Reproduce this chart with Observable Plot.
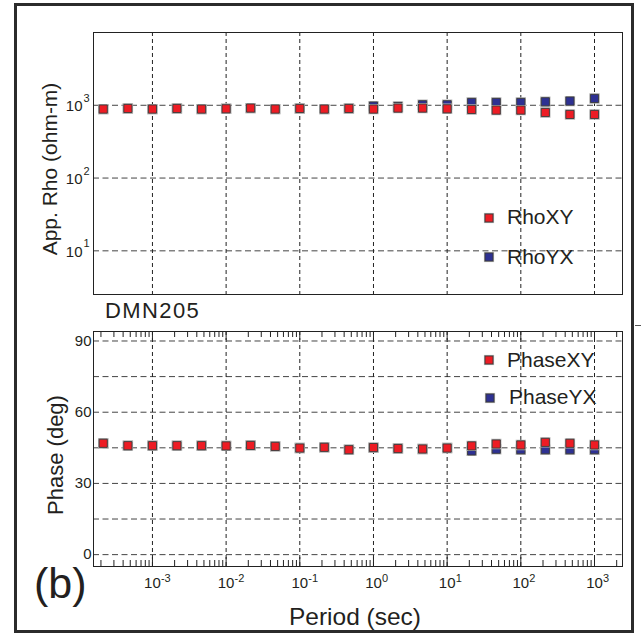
<!DOCTYPE html>
<html><head><meta charset="utf-8">
<script src="https://cdn.jsdelivr.net/npm/d3@7"></script>
<script src="https://cdn.jsdelivr.net/npm/@observablehq/plot@0.6"></script>
<style>
body{margin:0;background:#fff;}
#wrap{position:relative;width:643px;height:633px;overflow:hidden;background:#fff;font-family:"Liberation Sans",Arial,sans-serif;}
#wrap > svg{position:absolute;left:0;}
#border{position:absolute;left:14px;top:3px;width:620px;height:630px;border:3px solid #2b2b2b;box-sizing:border-box;}
</style></head>
<body><div id="wrap"></div>
<script>
// ---- data ----
const periods = [0.000215, 0.000464, 0.001, 0.00215, 0.00464, 0.01, 0.0215, 0.0464, 0.1, 0.215, 0.464, 1, 2.15, 4.64, 10, 21.5, 46.4, 100, 215, 464, 1000];
const rhoXY = [887, 904, 887, 904, 887, 895, 915, 887, 904, 887, 904, 887, 915, 915, 895, 876, 859, 859, 796, 748, 748];
const rhoYX = [887, 904, 887, 904, 887, 895, 915, 887, 904, 887, 904, 975, 963, 1016, 1016, 1093, 1093, 1093, 1117, 1142, 1240];
const phaseXY = [46.9, 45.9, 45.9, 45.9, 45.9, 45.8, 46.0, 45.6, 44.9, 45.2, 44.2, 45.1, 44.7, 44.5, 44.9, 45.8, 46.6, 46.2, 47.3, 46.9, 46.2];
const phaseYX = [46.9, 45.9, 45.9, 45.9, 45.9, 45.8, 46.0, 45.6, 44.9, 45.2, 44.2, 45.1, 44.7, 44.5, 44.9, 43.7, 44.4, 44.2, 44.2, 44.2, 44.2];
const decadeTicks = [0.001, 0.01, 0.1, 1, 10, 100, 1000];
const decadeExps = ["-3", "-2", "-1", "0", "1", "2", "3"];
const rhoTicks = [10, 100, 1000];
const rhoExps = ["1", "2", "3"];
const rhoGrid = [10, 100, 1000, 10000];
const phaseTicks = [0, 30, 60, 90];
const phaseGrid = [0, 15, 30, 45, 60, 75, 90];
const seriesNames = ["RhoXY", "RhoYX", "PhaseXY", "PhaseYX"];
const RED = "#ed1c24", BLUE = "#2e3192", INK = "#231f20";

const xDomain = [Math.pow(10, -3.8), Math.pow(10, 3.38)];
const rhoData = periods.map((p, i) => ({period: p, xy: rhoXY[i], yx: rhoYX[i]}));
const phData = periods.map((p, i) => ({period: p, xy: phaseXY[i], yx: phaseYX[i]}));

// minor tick positions for the log axis
const minor = [];
for (let e = -4; e <= 3; e++) for (let m = 2; m <= 9; m++) {
  const v = m * Math.pow(10, e);
  if (v > xDomain[0] && v < xDomain[1]) minor.push(v);
}

function dots(data, key, fill) {
  return [
    Plot.dot(data, {x: "period", y: key, symbol: "square", r: 4.6, fill: "#b5b5b5", stroke: "#b5b5b5", strokeWidth: 2.2}),
    Plot.dot(data, {x: "period", y: key, symbol: "square", r: 4.6, fill, stroke: "#3a3a3a", strokeWidth: 0.9})
  ];
}
const font = {fontFamily: "Liberation Sans, Arial, sans-serif", background: "transparent", color: INK};

const topPlot = Plot.plot({
  width: 643, height: 300, marginLeft: 93, marginRight: 21, marginTop: 32, marginBottom: 6,
  style: font,
  x: {type: "log", domain: xDomain, axis: null},
  y: {type: "log", domain: [Math.pow(10, 0.4), 10000], axis: null},
  marks: [
    Plot.ruleY(rhoGrid, {stroke: "#444", strokeDasharray: "6,3.5"}),
    Plot.ruleX(decadeTicks, {stroke: "#222", strokeDasharray: "4,3"}),
    Plot.frame({stroke: "#222"}),
    Plot.text(rhoTicks, {y: d => d, text: () => "10", frameAnchor: "left", textAnchor: "end", dx: -11, dy: 1, fontSize: 15, fill: INK}),
    Plot.text(rhoTicks, {y: d => d, text: (d, i) => rhoExps[i], frameAnchor: "left", textAnchor: "end", dx: -4, dy: -7, fontSize: 11, fill: INK}),
    ...dots(rhoData, "yx", BLUE),
    ...dots(rhoData, "xy", RED)
  ]
});
topPlot.style.top = "0px";

const frameH = 333 - 31 - 67;
const botPlot = Plot.plot({
  width: 643, height: 333, marginLeft: 93, marginRight: 21, marginTop: 31, marginBottom: 67,
  style: font,
  x: {type: "log", domain: xDomain, axis: null},
  y: {domain: [-5, 94], axis: null},
  marks: [
    Plot.ruleY(phaseGrid, {stroke: "#444", strokeDasharray: "6,3.5"}),
    Plot.ruleX(decadeTicks, {stroke: "#222", strokeDasharray: "4,3"}),
    Plot.tickX(minor, {x: d => d, insetTop: frameH - 6, stroke: "#222"}),
    Plot.tickX(minor, {x: d => d, insetBottom: frameH - 6, stroke: "#222"}),
    Plot.tickX(decadeTicks, {x: d => d, insetTop: frameH - 9, stroke: "#222"}),
    Plot.tickX(decadeTicks, {x: d => d, insetBottom: frameH - 9, stroke: "#222"}),
    Plot.frame({stroke: "#222"}),
    Plot.text(phaseTicks, {y: d => d, text: d => String(d), frameAnchor: "left", textAnchor: "end", dx: -2, fontSize: 15, fill: INK}),
    Plot.text(decadeTicks, {x: d => d, text: () => "10", frameAnchor: "bottom", dy: 21, fontSize: 15, fill: INK}),
    Plot.text(decadeTicks, {x: d => d, text: (d, i) => decadeExps[i], frameAnchor: "bottom", textAnchor: "start", dx: 8.5, dy: 15, fontSize: 11, fill: INK}),
    ...dots(phData, "yx", BLUE),
    ...dots(phData, "xy", RED)
  ]
});
botPlot.style.top = "300px";

const wrap = document.getElementById("wrap");
wrap.appendChild(topPlot);
wrap.appendChild(botPlot);

// overlay: axis titles, station label, panel letter, legends
const ov = d3.select(wrap).append("svg").attr("width", 643).attr("height", 633)
  .style("position", "absolute").style("left", 0).style("top", 0)
  .attr("font-family", "Liberation Sans, Arial, sans-serif").attr("fill", INK);
ov.append("text").attr("transform", "translate(57,169) rotate(-90)").attr("text-anchor", "middle")
  .attr("font-size", 21).text("App. Rho (ohm-m)");
ov.append("text").attr("transform", "translate(63,455) rotate(-90)").attr("text-anchor", "middle")
  .attr("font-size", 22).text("Phase (deg)");
ov.append("text").attr("x", 105).attr("y", 318).attr("font-size", 22).attr("letter-spacing", 1.4).text("DMN205");
ov.append("text").attr("x", 34).attr("y", 598).attr("font-size", 43).text("(b)");
ov.append("text").attr("x", 355).attr("y", 625).attr("text-anchor", "middle").attr("font-size", 24.5).text("Period (sec)");

const legend = [
  {name: seriesNames[0], fill: RED, cx: 489, cy: 218, tx: 507, ty: 224},
  {name: seriesNames[1], fill: BLUE, cx: 489, cy: 257, tx: 507, ty: 264},
  {name: seriesNames[2], fill: RED, cx: 489, cy: 360, tx: 507, ty: 367},
  {name: seriesNames[3], fill: BLUE, cx: 490, cy: 398, tx: 509, ty: 404}
];
for (const l of legend) {
  ov.append("rect").attr("x", l.cx - 4).attr("y", l.cy - 4).attr("width", 8).attr("height", 8)
    .attr("fill", l.fill).attr("stroke", "#b5b5b5").attr("stroke-width", 2.2);
  ov.append("rect").attr("x", l.cx - 4).attr("y", l.cy - 4).attr("width", 8).attr("height", 8)
    .attr("fill", l.fill).attr("stroke", "#3a3a3a").attr("stroke-width", 0.9);
  ov.append("text").attr("x", l.tx).attr("y", l.ty).attr("font-size", 21).text(l.name);
}
ov.append("line").attr("x1", 635).attr("x2", 641).attr("y1", 325.5).attr("y2", 325.5).attr("stroke", "#555");

const b = document.createElement("div");
b.id = "border";
wrap.appendChild(b);
</script>
</body></html>
